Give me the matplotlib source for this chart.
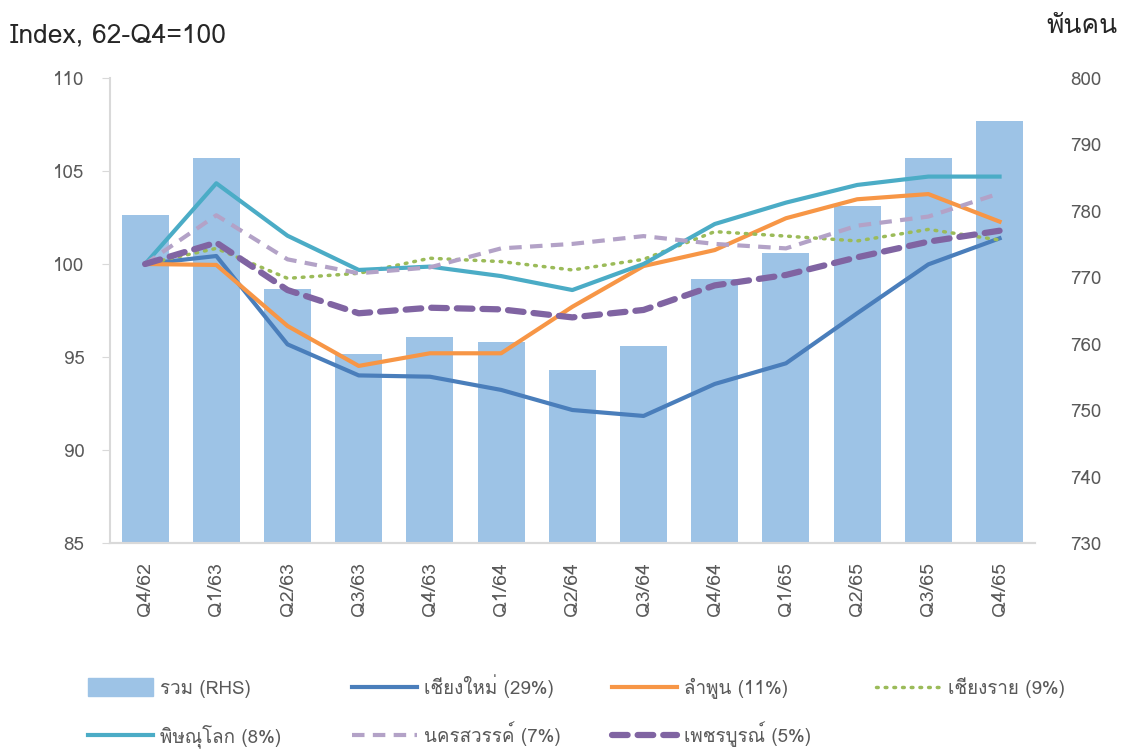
import numpy as np
import matplotlib as mat
mat.use('agg')
import matplotlib.pyplot as plt
from matplotlib import font_manager
from matplotlib.ft2font import FT2Font
from matplotlib.lines import Line2D
from matplotlib.patches import Rectangle

# data
quarters = ['Q4/62', 'Q1/63', 'Q2/63', 'Q3/63', 'Q4/63', 'Q1/64', 'Q2/64',
            'Q3/64', 'Q4/64', 'Q1/65', 'Q2/65', 'Q3/65', 'Q4/65']
total_rhs = [779.4, 788.0, 768.2, 758.5, 761.0, 760.3, 756.0,
             759.7, 769.7, 773.7, 780.7, 788.0, 793.5]
chiangmai = [100, 100.43, 95.68, 94.01, 93.94, 93.23, 92.15,
             91.83, 93.55, 94.66, 97.35, 99.98, 101.38]
lamphun = [100, 99.95, 96.67, 94.52, 95.2, 95.2, 97.7,
           99.89, 100.75, 102.46, 103.48, 103.76, 102.28]
chiangrai = [100, 100.84, 99.23, 99.5, 100.31, 100.13, 99.68,
             100.25, 101.74, 101.5, 101.24, 101.86, 101.29]
phitsanulok = [100, 104.34, 101.52, 99.68, 99.86, 99.35, 98.6,
               100.0, 102.15, 103.3, 104.25, 104.7, 104.7]
nakhonsawan = [100, 102.62, 100.25, 99.5, 99.82, 100.84, 101.08,
               101.5, 101.08, 100.84, 102.06, 102.55, 103.8]
phetchabun = [100, 101.15, 98.6, 97.35, 97.65, 97.56, 97.13,
              97.53, 98.85, 99.41, 100.36, 101.2, 101.79]
labels = ['รวม (RHS)', 'เชียงใหม่ (29%)', 'ลำพูน (11%)', 'เชียงราย (9%)',
          'พิษณุโลก (8%)', 'นครสวรรค์ (7%)', 'เพชรบูรณ์ (5%)']


def find_thai_family():
    """ look for any installed font that can draw Thai """
    for f in font_manager.fontManager.ttflist:
        try:
            if 0x0E1E in FT2Font(f.fname).get_charmap():
                return f.name
        except Exception:
            pass
    return None


thai = find_thai_family()
families = ([thai] if thai else []) + ['DejaVu Sans']
plt.rcParams['font.family'] = families

grey = '#595959'
W, H = 1122, 753
fig = plt.figure(figsize=(W / 100, H / 100), dpi=100)
ax2 = fig.add_axes([0.0976, 0.2789, 0.825, 0.6175])
ax = ax2.twinx()
ax.yaxis.tick_left()
ax2.yaxis.tick_right()
ax.yaxis.set_label_position('left')

x = np.arange(len(quarters))
ax2.bar(x, total_rhs, width=0.66, color='#9DC3E6', zorder=1)
ax2.set_ylim(730, 800)
ax2.set_yticks(np.arange(730, 801, 10))

dot = (0, (0.5, 2))
dash = (0, (3, 2))
bigdash = (0, (2.5, 1.6))
styles = [
    dict(color='#4A7EBB', lw=3),
    dict(color='#F79646', lw=3),
    dict(color='#9BBB59', lw=2.5, linestyle=dot, dash_capstyle='round'),
    dict(color='#4BACC6', lw=3),
    dict(color='#B3A2C7', lw=3, linestyle=dash),
    dict(color='#8064A2', lw=4.5, linestyle=bigdash, dash_capstyle='round'),
]
series = [chiangmai, lamphun, chiangrai, phitsanulok, nakhonsawan, phetchabun]
for vals, st in zip(series, styles):
    ax.plot(x, vals, **st)
ax.set_ylim(85, 110)
ax.set_yticks(np.arange(85, 111, 5))
ax.set_xlim(-0.5, len(quarters) - 0.5)

ax2.set_xticks(x)
ax2.set_xticklabels(quarters, rotation=90, fontsize=14, color=grey)
ax2.tick_params(axis='x', length=0, pad=14)
ax2.tick_params(axis='y', length=0, labelsize=13.5, labelcolor=grey, pad=25)
ax.tick_params(axis='y', length=6, color='#D9D9D9', labelsize=13.5,
               labelcolor=grey, pad=12)

for a in (ax, ax2):
    for s in ('top', 'right', 'left'):
        a.spines[s].set_visible(False)
    a.spines['bottom'].set_color('#D9D9D9')
    a.spines['bottom'].set_linewidth(1.5)
ax.spines['left'].set_visible(True)
ax.spines['left'].set_color('#D9D9D9')
ax.spines['left'].set_linewidth(1.5)

fig.text(0.009, 0.953, 'Index, 62-Q4=100', fontsize=19, color='#262626',
         va='center', ha='left')
fig.text(0.996, 0.966, 'พันคน', fontsize=19, color='#262626',
         va='center', ha='right')

# legend laid out by hand, in pixels, so rows and columns line up evenly
col_px = [88, 352, 612, 876]
row_px = [687, 735]
for i, lab in enumerate(labels):
    x0 = col_px[i % 4]
    y0 = row_px[i // 4]
    yf = 1 - y0 / H
    if i == 0:
        fig.patches.append(Rectangle((x0 / W, 1 - (y0 + 9) / H), 65 / W,
                                     18 / H, color='#9DC3E6',
                                     transform=fig.transFigure))
    else:
        fig.lines.append(Line2D([x0 / W, (x0 + 65) / W], [yf, yf],
                                transform=fig.transFigure, **styles[i - 1]))
    fig.text((x0 + 72) / W, 1 - (y0 + 7) / H, lab, fontsize=13.5,
             color=grey, ha='left', va='baseline')

fig.savefig('out.png', dpi=100)
